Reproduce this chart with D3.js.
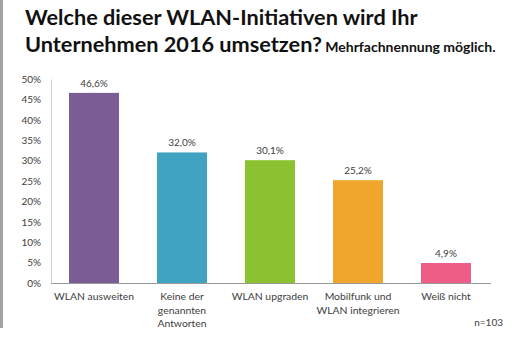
<!DOCTYPE html>
<html>
<head>
<meta charset="utf-8">
<script src="https://cdn.jsdelivr.net/npm/d3@7"></script>
<style>
  body { margin: 0; background: #fff; }
  svg { font-family: Lato, "Open Sans", sans-serif; }
</style>
</head>
<body>
<svg width="520" height="338"></svg>
<script>
let categories = ["WLAN ausweiten", "Keine der|genannten|Antworten", "WLAN upgraden", "Mobilfunk und|WLAN integrieren", "Weiß nicht"];
let values = [46.6, 32.0, 30.1, 25.2, 4.9];
let colors = ["#7b5c95", "#3fa3c1", "#8cc232", "#f0a52c", "#ee5d86"];
let yTicks = [0, 5, 10, 15, 20, 25, 30, 35, 40, 45, 50];

let svg = d3.select("svg");

// gray stripe at the left edge
svg.append("rect").attr("x", 0).attr("y", 0).attr("width", 3).attr("height", 328).attr("fill", "#a3a3a3");

// title
let title = svg.append("text").attr("x", 25).attr("fill", "#111").attr("font-weight", "bold");
title.append("tspan").attr("x", 25).attr("y", 25).attr("font-size", 21.7).text("Welche dieser WLAN-Initiativen wird Ihr");
title.append("tspan").attr("x", 25).attr("y", 52).attr("font-size", 21.7).text("Unternehmen 2016 umsetzen?");
title.append("tspan").attr("font-size", 14).text(" Mehrfachnennung möglich.");

let x = d3.scaleBand()
    .domain(categories)
    .range([50, 490])
    .paddingInner(0.432)
    .paddingOuter(0.216);

let y = d3.scaleLinear().domain([0, 50]).range([283, 79]);

// y axis
let yAxis = svg.append("g")
    .attr("transform", "translate(51,0)")
    .call(d3.axisLeft(y).tickValues(yTicks).tickSize(0).tickPadding(10).tickFormat(d => d + "%"));
yAxis.select(".domain").attr("stroke", "#d0d0d0");
yAxis.selectAll("text").attr("font-size", 10).attr("fill", "#404040").attr("font-family", "Lato, sans-serif");

// bars
svg.selectAll("rect.bar")
    .data(values)
    .join("rect")
    .attr("class", "bar")
    .attr("x", (d, i) => x(categories[i]))
    .attr("width", x.bandwidth())
    .attr("y", d => y(d))
    .attr("height", d => y(0) - y(d))
    .attr("fill", (d, i) => colors[i]);

// value labels
svg.selectAll("text.val")
    .data(values)
    .join("text")
    .attr("class", "val")
    .attr("x", (d, i) => x(categories[i]) + x.bandwidth() / 2)
    .attr("y", d => y(d) - 6)
    .attr("text-anchor", "middle")
    .attr("font-size", 10)
    .attr("fill", "#404040")
    .text(d => d.toFixed(1).replace(".", ",") + "%");

// x axis
let xAxis = svg.append("g")
    .attr("transform", "translate(0,283)")
    .call(d3.axisBottom(x).tickSize(0).tickFormat(""));
xAxis.select(".domain").attr("stroke", "#999").attr("d", "M51,0.5H491");

// category labels, split on |
svg.selectAll("text.cat")
    .data(categories)
    .join("text")
    .attr("class", "cat")
    .attr("text-anchor", "middle")
    .attr("font-size", 10.4)
    .attr("fill", "#404040")
    .each(function (d) {
        let cx = x(d) + x.bandwidth() / 2;
        d3.select(this).selectAll("tspan")
            .data(d.split("|"))
            .join("tspan")
            .attr("x", cx)
            .attr("y", (s, j) => 300 + j * 13.5)
            .text(s => s);
    });

svg.append("text")
    .attr("x", 503).attr("y", 326)
    .attr("text-anchor", "end")
    .attr("font-size", 10)
    .attr("fill", "#404040")
    .text("n=103");
</script>
</body>
</html>
